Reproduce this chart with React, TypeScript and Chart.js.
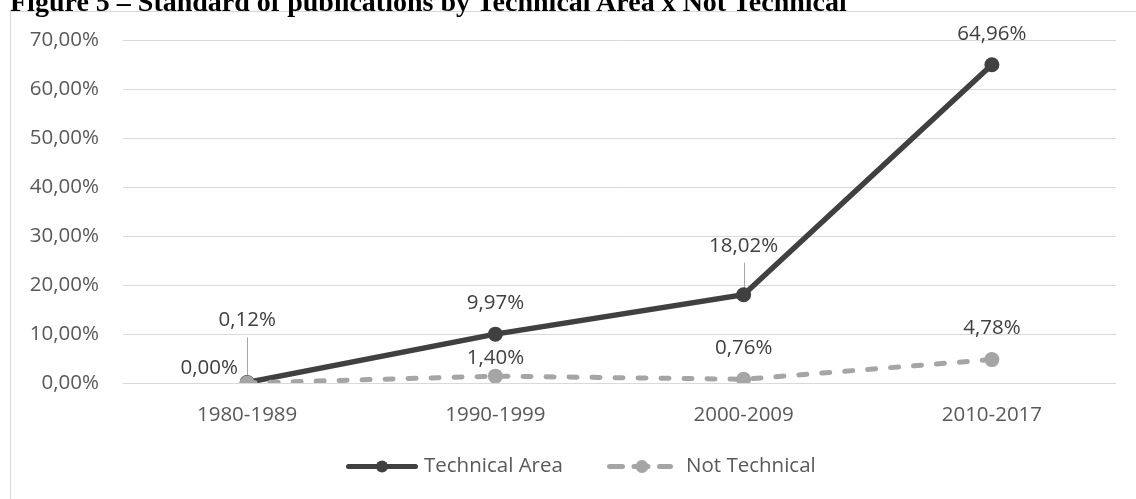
import React, { useEffect, useRef } from "react";
import { Chart, registerables } from "chart.js";

Chart.register(...registerables);

const TITLE = "Figure 5 – Standard of publications by Technical Area x Not Technical";
const categories = ["1980-1989", "1990-1999", "2000-2009", "2010-2017"];
const technicalArea = [0.12, 9.97, 18.02, 64.96];
const notTechnical = [0.0, 1.4, 0.76, 4.78];
const seriesNames = ["Technical Area", "Not Technical"];
const yTickValues = [0, 10, 20, 30, 40, 50, 60, 70];

const FONT = "'Open Sans', 'Noto Sans', sans-serif";
const FONT_SIZE = 20.5;
const DARK = "#404040";
const GREY = "#A5A5A5";
const TEXT = "#595959";

const fmt = (v: number) => v.toFixed(2).replace(".", ",") + "%";

// label placement relative to each point (style config, not data)
const labelPlacement = [
  [
    { dx: 0, dy: -62, leader: true },
    { dx: 0, dy: -31 },
    { dx: 0, dy: -49, leader: true },
    { dx: 0, dy: -31 },
  ],
  [
    { dx: -38, dy: -15 },
    { dx: 0, dy: -18 },
    { dx: 0, dy: -31 },
    { dx: 0, dy: -31 },
  ],
];

const labelPlugin = {
  id: "excelLabels",
  beforeDatasetsDraw(chart: any) {
    const ctx = chart.ctx;
    ctx.save();
    ctx.strokeStyle = "#A6A6A6";
    ctx.lineWidth = 1;
    chart.data.datasets.forEach((ds: any, di: number) => {
      const meta = chart.getDatasetMeta(di);
      meta.data.forEach((pt: any, i: number) => {
        const p = labelPlacement[di][i];
        if (p && p.leader) {
          ctx.beginPath();
          ctx.moveTo(Math.round(pt.x) + 0.5, pt.y + p.dy + 17);
          ctx.lineTo(Math.round(pt.x) + 0.5, pt.y - 2);
          ctx.stroke();
        }
      });
    });
    ctx.restore();
  },
  afterDatasetsDraw(chart: any) {
    const ctx = chart.ctx;
    ctx.save();
    ctx.font = `${FONT_SIZE}px ${FONT}`;
    ctx.fillStyle = DARK;
    ctx.textAlign = "center";
    ctx.textBaseline = "middle";
    chart.data.datasets.forEach((ds: any, di: number) => {
      const meta = chart.getDatasetMeta(di);
      meta.data.forEach((pt: any, i: number) => {
        const p = labelPlacement[di][i];
        ctx.fillText(fmt(ds.data[i]), pt.x + p.dx, pt.y + p.dy);
      });
    });
    ctx.restore();
  },
  afterDraw(chart: any) {
    // Excel-style legend (line + marker)
    const ctx = chart.ctx;
    const y = 466.5;
    ctx.save();
    ctx.lineCap = "round";
    // Technical Area
    ctx.strokeStyle = DARK;
    ctx.lineWidth = 5;
    ctx.beginPath();
    ctx.moveTo(348.5, y);
    ctx.lineTo(415.5, y);
    ctx.stroke();
    ctx.fillStyle = DARK;
    ctx.beginPath();
    ctx.arc(382, y, 6, 0, Math.PI * 2);
    ctx.fill();
    // Not Technical
    ctx.strokeStyle = GREY;
    ctx.fillStyle = GREY;
    [[609.5, 622.5], [634, 648], [659.5, 670.5]].forEach(([a, b]) => {
      ctx.beginPath();
      ctx.moveTo(a, y);
      ctx.lineTo(b, y);
      ctx.stroke();
    });
    ctx.beginPath();
    ctx.arc(642, y, 6.5, 0, Math.PI * 2);
    ctx.fill();
    ctx.font = `${FONT_SIZE}px ${FONT}`;
    ctx.fillStyle = TEXT;
    ctx.textAlign = "left";
    ctx.textBaseline = "middle";
    ctx.fillText(seriesNames[0], 424, y);
    ctx.fillText(seriesNames[1], 686, y);
    ctx.restore();
  },
};

export default function App() {
  const canvasRef = useRef<HTMLCanvasElement | null>(null);

  useEffect(() => {
    if (!canvasRef.current) return;
    const chart = new Chart(canvasRef.current, {
      type: "line",
      data: {
        labels: categories,
        datasets: [
          {
            label: seriesNames[0],
            data: technicalArea,
            borderColor: DARK,
            backgroundColor: DARK,
            borderWidth: 5.5,
            pointRadius: 7.5,
            pointBackgroundColor: DARK,
            pointBorderColor: DARK,
            pointBorderWidth: 0,
            tension: 0,
            order: 1,
          },
          {
            label: seriesNames[1],
            data: notTechnical,
            borderColor: GREY,
            backgroundColor: GREY,
            borderWidth: 5,
            borderDash: [8, 15],
            borderCapStyle: "round",
            pointRadius: 7.5,
            pointBackgroundColor: GREY,
            pointBorderColor: GREY,
            pointBorderWidth: 0,
            tension: 0,
            order: 0,
          },
        ],
      },
      options: {
        animation: false,
        responsive: false,
        maintainAspectRatio: false,
        layout: { padding: { left: 0, right: 20, top: 40, bottom: 0 } },
        plugins: {
          legend: { display: false },
          tooltip: { enabled: false },
          title: { display: false },
        },
        scales: {
          x: {
            offset: true,
            grid: { display: false, drawTicks: false },
            border: { display: false },
            ticks: {
              color: TEXT,
              font: { family: FONT, size: FONT_SIZE },
              padding: 20,
              maxRotation: 0,
            },
            afterFit: (scale: any) => {
              scale.height = 116;
            },
          },
          y: {
            min: 0,
            max: 70,
            afterBuildTicks: (scale: any) => {
              scale.ticks = yTickValues.map((v) => ({ value: v }));
            },
            grid: { color: "#D9D9D9", lineWidth: 1, drawTicks: false },
            border: { display: false },
            ticks: {
              color: TEXT,
              font: { family: FONT, size: FONT_SIZE },
              padding: 24,
              callback: (v: any) => fmt(Number(v)),
            },
            afterFit: (scale: any) => {
              scale.width = 123;
            },
          },
        },
      },
      plugins: [labelPlugin],
    });
    return () => chart.destroy();
  }, []);

  return (
    <div
      style={{
        position: "fixed",
        left: 0,
        top: 0,
        width: 1136,
        height: 499,
        overflow: "hidden",
        background: "#fff",
      }}
    >
      <div
        style={{
          position: "absolute",
          left: 10,
          top: 11,
          width: 1300,
          height: 700,
          border: "1px solid #D9D9D9",
          boxSizing: "border-box",
        }}
      />
      <canvas
        ref={canvasRef}
        width={1136}
        height={499}
        style={{ position: "absolute", left: 0, top: 0, width: 1136, height: 499 }}
      />
      <div
        style={{
          position: "absolute",
          left: 10,
          top: -12.5,
          whiteSpace: "nowrap",
          fontFamily: "'Liberation Serif', 'Times New Roman', serif",
          fontWeight: "bold",
          fontSize: 28,
          lineHeight: "28px",
          color: "#000",
        }}
      >
        {TITLE}
      </div>
    </div>
  );
}
